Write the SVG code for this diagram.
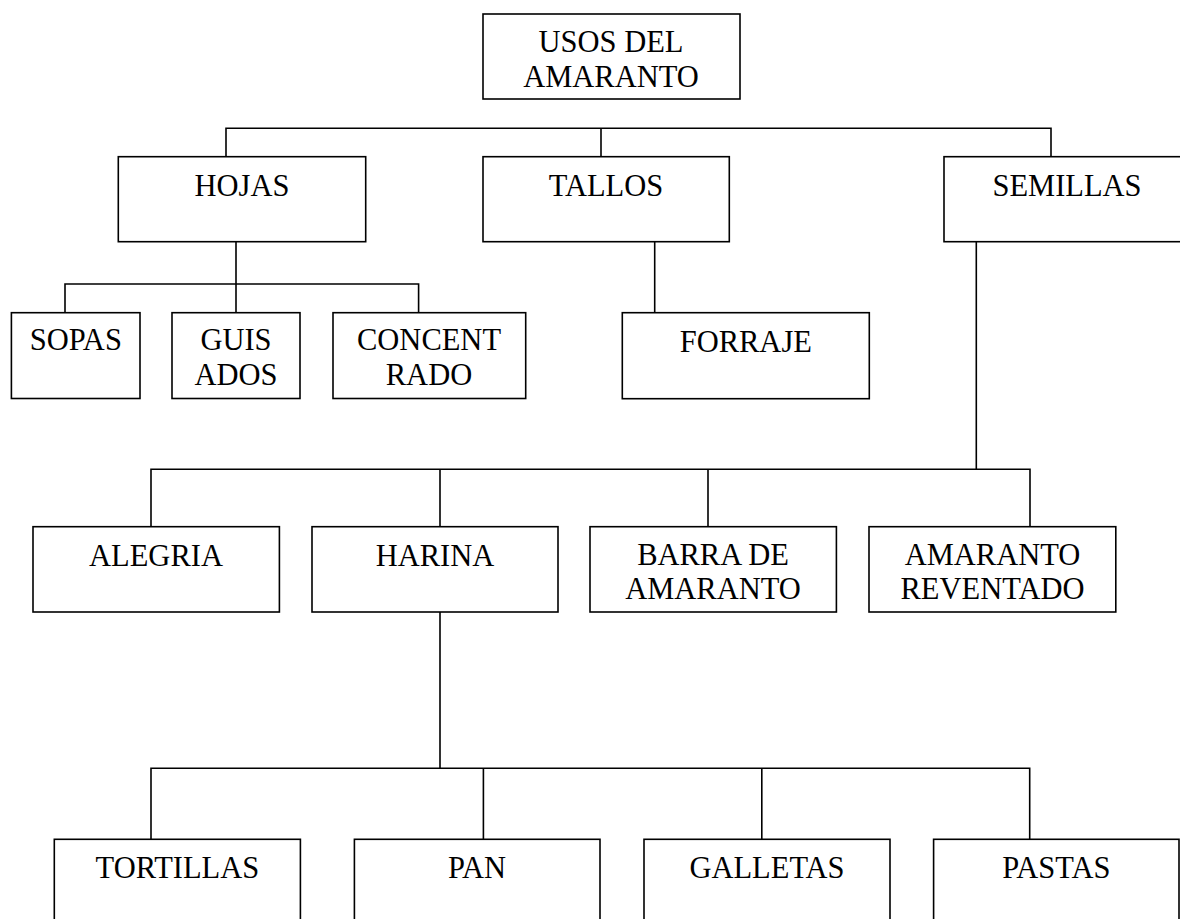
<svg xmlns="http://www.w3.org/2000/svg" width="1180" height="919" viewBox="0 0 1180 919">
<style>
.box{fill:#fff;stroke:#000;stroke-width:1.6}
.t{font-family:"Liberation Serif","Times New Roman",serif;font-size:30.5px;fill:#000;text-anchor:middle}
.c{fill:none;stroke:#000;stroke-width:1.6}
</style>
<rect width="1180" height="919" fill="#fff"/>
<g id="connectors">
<path class="c" d="M226,241.7 V128.3 H1051 V156.7 M601,128.3 V156.7"/>
<path class="c" d="M236,241.7 V284 M65,312.7 V284 H418.6 V312.7 M236,284 V312.7"/>
<path class="c" d="M654.7,241.7 V312.7"/>
<path class="c" d="M976.3,241.7 V469.3 M151,526.7 V469.3 H1030 V526.7 M440,469.3 V526.7 M708,469.3 V526.7"/>
<path class="c" d="M440,612 V768.3 M151,839.3 V768.3 H1029.7 V839.3 M483.4,768.3 V839.3 M761.8,768.3 V839.3"/>
</g>
<g id="root"><rect class="box" x="483" y="14" width="257" height="85"/><text class="t" x="611" y="52">USOS DEL</text><text class="t" x="611" y="87">AMARANTO</text></g>
<g id="hojas"><rect class="box" x="118.3" y="156.7" width="247.4" height="85"/><text class="t" x="242" y="196">HOJAS</text></g>
<g id="tallos"><rect class="box" x="483" y="156.7" width="246.3" height="85"/><text class="t" x="606" y="195.5">TALLOS</text></g>
<g id="semillas"><rect class="box" x="944" y="156.7" width="246" height="85"/><text class="t" x="1067" y="195.5">SEMILLAS</text></g>
<g id="sopas"><rect class="box" x="11.4" y="312.7" width="128.6" height="85.8"/><text class="t" x="75.8" y="350">SOPAS</text></g>
<g id="guisados"><rect class="box" x="172" y="312.7" width="128" height="85.8"/><text class="t" x="236" y="350">GUIS</text><text class="t" x="236" y="385">ADOS</text></g>
<g id="concentrado"><rect class="box" x="333" y="312.7" width="192.7" height="85.8"/><text class="t" x="429" y="350">CONCENT</text><text class="t" x="429" y="385">RADO</text></g>
<g id="forraje"><rect class="box" x="622.3" y="312.7" width="247" height="86"/><text class="t" x="745.8" y="351.7">FORRAJE</text></g>
<g id="alegria"><rect class="box" x="33" y="526.7" width="246.4" height="85.3"/><text class="t" x="156" y="566">ALEGRIA</text></g>
<g id="harina"><rect class="box" x="312" y="526.7" width="246" height="85.3"/><text class="t" x="435" y="566">HARINA</text></g>
<g id="barra"><rect class="box" x="590" y="526.7" width="246.4" height="85.3"/><text class="t" x="713" y="565">BARRA DE</text><text class="t" x="713" y="599.3">AMARANTO</text></g>
<g id="reventado"><rect class="box" x="869" y="526.7" width="246.8" height="85.3"/><text class="t" x="992.5" y="565">AMARANTO</text><text class="t" x="992.5" y="599.3">REVENTADO</text></g>
<g id="tortillas"><rect class="box" x="54.3" y="839.3" width="246.1" height="95"/><text class="t" x="177.4" y="878.3">TORTILLAS</text></g>
<g id="pan"><rect class="box" x="354.4" y="839.3" width="245.6" height="95"/><text class="t" x="477" y="878.3">PAN</text></g>
<g id="galletas"><rect class="box" x="644" y="839.3" width="246" height="95"/><text class="t" x="767" y="878.3">GALLETAS</text></g>
<g id="pastas"><rect class="box" x="933.6" y="839.3" width="245.4" height="95"/><text class="t" x="1056.3" y="878.3">PASTAS</text></g>
</svg>
